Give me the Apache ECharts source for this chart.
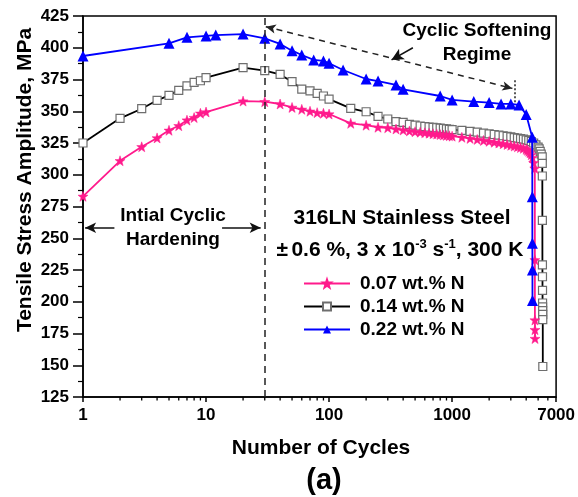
<!DOCTYPE html>
<html>
<head>
<meta charset="utf-8">
<script src="https://cdn.jsdelivr.net/npm/echarts@6/dist/echarts.min.js"></script>
<style>
  html, body { margin: 0; padding: 0; background: #fff; }
  #chart { width: 578px; height: 497px; }
</style>
</head>
<body>
<div id="chart"></div>
<script>
// Tensile stress amplitude vs. number of cycles, 316LN stainless steel
const seriesNames = ['0.07 wt.% N', '0.14 wt.% N', '0.22 wt.% N'];

const cycles007 = [1,2,3,4,5,6,7,8,9,10,20,30,40,50,60,70,80,90,100,150,200,250,300,350,400,450,500,
  550,600,650,700,750,800,850,900,950,1000,1200,1400,1600,1800,2000,2200,2400,2600,2800,3000,
  3200,3400,3600,3800,4000,4100,4200,4300,4400,4500,4600,4700,4705,4710,4715,4720];
const stress007 = [283,311,322,329,335,338.6,343,345,348.4,349.4,358,357.5,355.7,353,351.5,350,348.9,348.4,347.8,
  340.5,339,337.4,337,336,335.2,334.5,333.9,
  333.5,333.1,332.7,332.3,332,331.6,331.3,331,330.7,330.4,329.5,328.6,327.8,327,326.3,325.6,325,324.4,323.8,323.2,
  322.6,322,321.4,320.8,320,319.2,318.4,317.3,315.8,313.5,309.5,305,233,185.6,178,171];

const cycles014 = [1,2,3,4,5,6,7,8,9,10,20,30,40,50,60,70,80,90,100,150,200,250,300,350,400,450,500,
  550,600,650,700,750,800,850,900,950,1000,1200,1400,1600,1800,2000,2200,2400,2600,2800,3000,
  3200,3400,3600,3800,4000,4200,4400,4600,4800,5000,5100,5200,5300,
  5400,5405,5410,5415,5420,5425,5430,5435,5440,5445,5450,5455,5460];
const stress014 = [325,344.4,352,358.6,362.5,366.5,370,372.8,374,376.4,384.3,382,379,373.3,367.5,366,364,362,359.6,
  352.3,349.6,346,343.9,341.8,341.3,339.7,339,
  338.4,338,337.6,337.3,337,336.7,336.4,336.1,335.8,335.5,335,334.2,333.5,332.8,332.2,331.7,331.2,330.7,330.2,329.8,
  329.3,328.9,328.4,328,327.5,327,326.2,325,323.6,321.8,320.3,318.4,316.2,
  314,309,299,264,229,219.7,209,199,196,193,190,186,149];

const cycles022 = [1,5,7,10,12,20,30,40,50,60,75,90,100,130,200,250,350,400,800,1000,1500,2000,2500,3000,3500,4000,
  4480,4485,4490,4495,4500];
const stress022 = [393.5,403.5,408.2,409.3,410,410.8,407.4,403,397.7,394.3,390.4,389.6,387.8,382.5,375.4,373.8,370.7,367.3,
  362,358.9,357.6,356.8,355.8,355.8,355,347.5,329.5,282.7,246,225,201];

// logarithmic minor ticks on the cycle axis
const minorCycleTicks = [2,3,4,5,6,7,8,9,20,30,40,50,60,70,80,90,200,300,400,500,600,700,800,900,
  2000,3000,4000,5000,6000];

// annotation geometry in data units [cycles, MPa]
const transitionCycle = 30;
const softeningArrow = [[30.6, 416.6], [3090, 368]];
const softeningPointer = [[480, 400], [322, 390.5]];
const softeningEndMark = [[3200, 374.5], [3200, 356.5]];
const hardeningLeft = [[1.8, 258.3], [1.04, 258.3]];
const hardeningRight = [[13.5, 258.3], [27.8, 258.3]];

const FONT = '"Liberation Sans", Arial, Helvetica, sans-serif';
const PINK = '#ff1a8c';
const BLUE = '#0000ff';

const starPath = 'path://M50,0L61.8,33.8L97.6,34.5L69,56.2L79.4,90.5L50,70L20.6,90.5L31,56.2L2.4,34.5L38.2,33.8Z';

const zip = (xs, ys) => xs.map((x, i) => [x, ys[i]]);

const chart = echarts.init(document.getElementById('chart'), null, { renderer: 'canvas' });

const annotationLines = {
  silent: true,
  symbol: 'none',
  animation: false,
  label: { show: false },
  emphasis: { disabled: true },
  data: [
    { xAxis: transitionCycle, symbol: 'none',
      lineStyle: { type: [7, 5], color: '#222', width: 1.5 } },
    [{ coord: softeningArrow[0], symbol: 'arrow', symbolSize: [7, 10] },
     { coord: softeningArrow[1], symbol: 'arrow', symbolSize: [7, 10],
       lineStyle: { type: [6, 5], color: '#222', width: 1.5 } }],
    [{ coord: softeningPointer[0], symbol: 'none' },
     { coord: softeningPointer[1], symbol: 'arrow', symbolSize: [9, 12],
       lineStyle: { type: 'solid', color: '#111', width: 1.5 } }],
    [{ coord: softeningEndMark[0], symbol: 'none' },
     { coord: softeningEndMark[1], symbol: 'none',
       lineStyle: { type: [2, 2], color: '#222', width: 1.5 } }],
    [{ coord: hardeningLeft[0], symbol: 'none' },
     { coord: hardeningLeft[1], symbol: 'arrow', symbolSize: [8, 11],
       lineStyle: { type: 'solid', color: '#111', width: 1.5 } }],
    [{ coord: hardeningRight[0], symbol: 'none' },
     { coord: hardeningRight[1], symbol: 'arrow', symbolSize: [8, 11],
       lineStyle: { type: 'solid', color: '#111', width: 1.5 } }]
  ]
};

chart.setOption({
  animation: false,
  backgroundColor: '#fff',
  textStyle: { fontFamily: FONT },
  grid: {
    left: 83, right: 19, top: 16, bottom: 100,
    show: true, borderColor: '#000', borderWidth: 1.5, backgroundColor: 'transparent'
  },
  xAxis: {
    type: 'log', logBase: 10, min: 1, max: 7000,
    axisLine: { onZero: false, lineStyle: { color: '#000', width: 1.5 } },
    axisTick: { show: true, length: 5, lineStyle: { color: '#000', width: 1.5 } },
    minorTick: { show: false },
    splitLine: { show: false },
    axisLabel: {
      color: '#000', fontSize: 17, fontWeight: 'bold', fontFamily: FONT, margin: 10,
      formatter: v => String(Math.round(v))
    }
  },
  yAxis: {
    type: 'value', min: 125, max: 425, interval: 25,
    axisLine: { show: true, lineStyle: { color: '#000', width: 1.5 } },
    axisTick: { show: true, length: 10, lineStyle: { color: '#000', width: 1.5 } },
    minorTick: { show: true, splitNumber: 2, length: 5, lineStyle: { color: '#000', width: 1.2 } },
    splitLine: { show: false },
    axisLabel: { color: '#000', fontSize: 17, fontWeight: 'bold', fontFamily: FONT, margin: 14 }
  },
  legend: {
    data: seriesNames,
    orient: 'vertical',
    left: 298, top: 269,
    itemWidth: 46, itemHeight: 10, itemGap: 4,
    textStyle: { color: '#000', fontSize: 19, fontWeight: 'bold', fontFamily: FONT, padding: [0, 0, 0, 5] },
    selectedMode: false
  },
  series: [
    {
      name: seriesNames[0], type: 'line', data: zip(cycles007, stress007),
      symbol: starPath, symbolSize: 10,
      lineStyle: { color: PINK, width: 1.8 },
      itemStyle: { color: PINK, borderColor: PINK, borderWidth: 0.5 },
      z: 3, clip: false
    },
    {
      name: seriesNames[1], type: 'line', data: zip(cycles014, stress014),
      symbol: 'rect', symbolSize: 8,
      lineStyle: { color: '#000', width: 1.8 },
      itemStyle: { color: '#fff', borderColor: '#6e6e6e', borderWidth: 1.2 },
      z: 2, clip: false
    },
    {
      name: seriesNames[2], type: 'line', data: zip(cycles022, stress022),
      symbol: 'triangle', symbolSize: 11,
      lineStyle: { color: BLUE, width: 1.8 },
      itemStyle: { color: BLUE },
      z: 4, clip: false,
      markLine: annotationLines
    },
    {
      name: 'minorTicks', type: 'custom', silent: true, clip: false, z: 10,
      data: minorCycleTicks.map(c => [c, 125]),
      renderItem: (params, api) => {
        const p = api.coord([api.value(0), api.value(1)]);
        return {
          type: 'line',
          shape: { x1: p[0], y1: p[1], x2: p[0], y2: p[1] + 3.5 },
          style: { stroke: '#000', lineWidth: 1.3 }
        };
      }
    }
  ],
  graphic: [
    { type: 'text', x: 25, y: 180, rotation: Math.PI / 2,
      style: { text: 'Tensile Stress Amplitude, MPa', fill: '#000', font: 'bold 21px ' + FONT,
               align: 'center', verticalAlign: 'middle' } },
    { type: 'text', x: 321, y: 448,
      style: { text: 'Number of Cycles', fill: '#000', font: 'bold 21px ' + FONT,
               align: 'center', verticalAlign: 'middle' } },
    { type: 'text', x: 324, y: 481,
      style: { text: '(a)', fill: '#000', font: 'bold 29px ' + FONT,
               align: 'center', verticalAlign: 'middle' } },
    { type: 'text', x: 477, y: 31,
      style: { text: 'Cyclic Softening', fill: '#000', font: 'bold 19px ' + FONT,
               align: 'center', verticalAlign: 'middle' } },
    { type: 'text', x: 477, y: 55,
      style: { text: 'Regime', fill: '#000', font: 'bold 19px ' + FONT,
               align: 'center', verticalAlign: 'middle' } },
    { type: 'text', x: 173, y: 216,
      style: { text: 'Intial Cyclic', fill: '#000', font: 'bold 19px ' + FONT,
               align: 'center', verticalAlign: 'middle' } },
    { type: 'text', x: 173, y: 240,
      style: { text: 'Hardening', fill: '#000', font: 'bold 19px ' + FONT,
               align: 'center', verticalAlign: 'middle' } },
    { type: 'text', x: 402, y: 218,
      style: { text: '316LN Stainless Steel', fill: '#000', font: 'bold 21px ' + FONT,
               align: 'center', verticalAlign: 'middle' } },
    { type: 'text', x: 400, y: 250,
      style: {
        text: '{b|±} {b|0.6 %, 3 x 10}{s|-3}{b| s}{s|-1}{b|, 300 K}',
        fill: '#000', align: 'center', verticalAlign: 'middle',
        rich: {
          b: { fontSize: 21, fontWeight: 'bold', fontFamily: FONT, fill: '#000', lineHeight: 24 },
          s: { fontSize: 13, fontWeight: 'bold', fontFamily: FONT, fill: '#000', lineHeight: 24,
               verticalAlign: 'top', padding: [0, 0, 10, 0] }
        }
      } }
  ]
});
</script>
</body>
</html>
